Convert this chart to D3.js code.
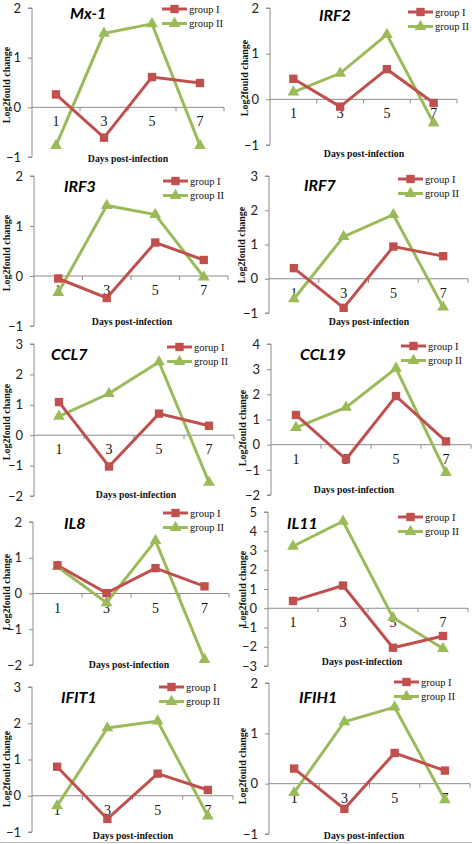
<!DOCTYPE html>
<html>
<head>
<meta charset="utf-8">
<script src="https://cdn.jsdelivr.net/npm/d3@7"></script>
<style>
  html, body { margin: 0; padding: 0; background: #fff; }
  svg { display: block; }
</style>
</head>
<body>
<div id="chart"></div>
<script>
// ---------- DATA ----------
const genes = ["Mx-1", "IRF2", "IRF3", "IRF7", "CCL7", "CCL19", "IL8", "IL11", "IFIT1", "IFIH1"];
const days = ["1", "3", "5", "7"];
const groupI = [
  [0.26, -0.61, 0.61, 0.49],
  [0.45, -0.16, 0.66, -0.08],
  [-0.05, -0.44, 0.67, 0.32],
  [0.31, -0.85, 0.94, 0.66],
  [1.09, -1.03, 0.71, 0.31],
  [1.18, -0.58, 1.93, 0.13],
  [0.79, 0.01, 0.71, 0.20],
  [0.38, 1.18, -2.05, -1.44],
  [0.80, -0.64, 0.61, 0.16],
  [0.30, -0.50, 0.61, 0.26]
];
const groupII = [
  [-0.77, 1.49, 1.68, -0.77],
  [0.16, 0.57, 1.42, -0.52],
  [-0.33, 1.41, 1.23, -0.02],
  [-0.59, 1.23, 1.87, -0.83],
  [0.62, 1.37, 2.41, -1.55],
  [0.68, 1.48, 3.03, -1.11],
  [0.75, -0.26, 1.48, -1.85],
  [3.22, 4.52, -0.49, -2.09],
  [-0.28, 1.87, 2.06, -0.56],
  [-0.18, 1.23, 1.52, -0.32]
];
const yDomains = [[-1, 2], [-1, 2], [-1, 2], [-1, 3], [-2, 3], [-2, 4], [-2, 2], [-3, 5], [-1, 3], [-1, 2]];
const legendLabels = [
  ["group I", "group II"], ["group I", "group II"], ["group I", "group II"], ["group I", "group II"],
  ["gorup I", "group II"], ["group I", "group II"], ["group I", "group II"], ["group I", "group II"],
  ["group I", "group II"], ["group I", "group II"]
];
const xTitle = "Days post-infection";
const yTitle = "Log2fould change";

// ---------- LAYOUT (per-panel positions, relative to panel cell) ----------
const layout = [
  {left: 32, right: 224, top: 8,  bottom: 157, tx: 70, ty: 19, lx: 162, ly: 9,  xtx: 128, xty: 162, ytx: 7,  yty: 85},
  {left: 34, right: 221, top: 8,  bottom: 145, tx: 83, ty: 21, lx: 172, ly: 12, xtx: 128, xty: 157, ytx: 9,  yty: 78},
  {left: 34, right: 228, top: 8,  bottom: 158, tx: 64, ty: 24, lx: 163, ly: 13, xtx: 132, xty: 157, ytx: 7,  yty: 85},
  {left: 33, right: 232, top: 8,  bottom: 145, tx: 68, ty: 23, lx: 162, ly: 11, xtx: 133, xty: 157, ytx: 6,  yty: 77},
  {left: 34, right: 234, top: 8,  bottom: 160, tx: 51, ty: 24, lx: 167, ly: 11, xtx: 136, xty: 162, ytx: 7,  yty: 86},
  {left: 35, right: 235, top: 8,  bottom: 159, tx: 64, ty: 24, lx: 165, ly: 10, xtx: 118, xty: 157, ytx: 7,  yty: 92},
  {left: 33, right: 229, top: 18, bottom: 161, tx: 64, ty: 25, lx: 163, ly: 9,  xtx: 129, xty: 164, ytx: 7,  yty: 88},
  {left: 32, right: 232, top: 8,  bottom: 162, tx: 51, ty: 25, lx: 162, ly: 13, xtx: 126, xty: 161, ytx: 7,  yty: 85},
  {left: 32, right: 233, top: 15, bottom: 160, tx: 61, ty: 31, lx: 159, ly: 15, xtx: 133, xty: 167, ytx: 7,  yty: 97},
  {left: 33, right: 234, top: 11, bottom: 162, tx: 63, ty: 31, lx: 158, ly: 10, xtx: 128, xty: 167, ytx: 7,  yty: 94}
];

const W = 472, H = 844, cellW = 236, cellH = 168;
const red = "#C0504D", green = "#9BBB59", axisCol = "#8c8c8c";
const sansFont = "Lato, 'Open Sans', sans-serif";
const serifFont = "'Liberation Serif', 'DejaVu Serif', serif";

const svg = d3.select("#chart").append("svg").attr("width", W).attr("height", H);

const squareSym = d3.symbol().type(d3.symbolSquare).size(70);
const triSym = d3.symbol().type(d3.symbolTriangle).size(60);

genes.forEach((gene, i) => {
  const L = layout[i];
  const col = i % 2, row = Math.floor(i / 2);
  const g = svg.append("g").attr("transform", `translate(${col * cellW},${row * cellH})`);

  const x = d3.scaleBand().domain(days).range([L.left, L.right]).padding(0);
  const dom = yDomains[i];
  const y = d3.scaleLinear().domain(dom).range([L.bottom, L.top]);

  // Y axis
  const yAxis = d3.axisLeft(y).tickValues(d3.range(dom[0], dom[1] + 1)).tickSize(4).tickPadding(7).tickFormat(d3.format("d"));
  const ya = g.append("g").attr("transform", `translate(${L.left},0)`).call(yAxis);
  ya.select(".domain").attr("stroke", axisCol).attr("d", `M-4,${L.top}H0V${L.bottom}H-4`);
  ya.selectAll(".tick line").attr("stroke", axisCol);
  ya.selectAll(".tick text").attr("font-family", sansFont).attr("font-size", 13).attr("fill", "#222");

  // X axis at zero
  const y0 = y(0);
  g.append("line").attr("x1", L.left).attr("x2", L.right).attr("y1", y0).attr("y2", y0)
    .attr("stroke", axisCol).attr("stroke-width", 1);
  const bounds = days.map(d => x(d) + x.bandwidth());
  g.selectAll(".xt").data(bounds).enter().append("line")
    .attr("x1", d => d).attr("x2", d => d).attr("y1", y0).attr("y2", y0 + 4)
    .attr("stroke", axisCol);
  g.selectAll(".xl").data(days).enter().append("text")
    .attr("x", d => x(d) + x.bandwidth() / 2).attr("y", y0 + 19)
    .attr("text-anchor", "middle").attr("font-family", serifFont).attr("font-size", 14).attr("fill", "#111")
    .text(d => d);

  // Axis titles
  g.append("text").attr("x", L.xtx).attr("y", L.xty).attr("text-anchor", "middle")
    .attr("font-family", serifFont).attr("font-weight", "bold").attr("font-size", 9.8).attr("fill", "#111")
    .text(xTitle);
  g.append("text").attr("transform", `translate(${L.ytx + 3},${L.yty}) rotate(-90)`).attr("text-anchor", "middle")
    .attr("font-family", serifFont).attr("font-weight", "bold").attr("font-size", 10).attr("fill", "#111")
    .text(yTitle);

  // Gene title
  g.append("text").attr("x", L.tx).attr("y", L.ty)
    .attr("font-family", sansFont).attr("font-weight", "bold").attr("font-style", "italic")
    .attr("font-size", 16).attr("fill", "#000").text(gene);

  // Series
  const series = [
    {vals: groupII[i], color: green, sym: triSym},
    {vals: groupI[i], color: red, sym: squareSym}
  ];
  const line = d3.line().x((d, j) => x(days[j]) + x.bandwidth() / 2).y(d => y(d));
  series.forEach(s => {
    g.append("path").datum(s.vals).attr("d", line).attr("fill", "none")
      .attr("stroke", s.color).attr("stroke-width", 3).attr("stroke-linejoin", "miter");
  });
  series.forEach(s => {
    g.selectAll(null).data(s.vals).enter().append("path")
      .attr("d", s.sym)
      .attr("transform", (d, j) => `translate(${x(days[j]) + x.bandwidth() / 2},${y(d)})`)
      .attr("fill", s.color);
  });

  // Legend
  const leg = [
    {label: legendLabels[i][0], color: red, sym: squareSym},
    {label: legendLabels[i][1], color: green, sym: triSym}
  ];
  leg.forEach((l, k) => {
    const ly = L.ly + k * 14.5;
    g.append("line").attr("x1", L.lx).attr("x2", L.lx + 25).attr("y1", ly).attr("y2", ly)
      .attr("stroke", l.color).attr("stroke-width", 3);
    g.append("path").attr("d", l.sym).attr("transform", `translate(${L.lx + 12.5},${ly})`).attr("fill", l.color);
    g.append("text").attr("x", L.lx + 27).attr("y", ly + 3.5)
      .attr("font-family", serifFont).attr("font-size", 10.5).attr("fill", "#111").text(l.label);
  });
});

// bottom border line
svg.append("line").attr("x1", 0).attr("x2", W).attr("y1", 842.5).attr("y2", 842.5)
  .attr("stroke", "#bbb").attr("stroke-width", 1);
</script>
</body>
</html>
